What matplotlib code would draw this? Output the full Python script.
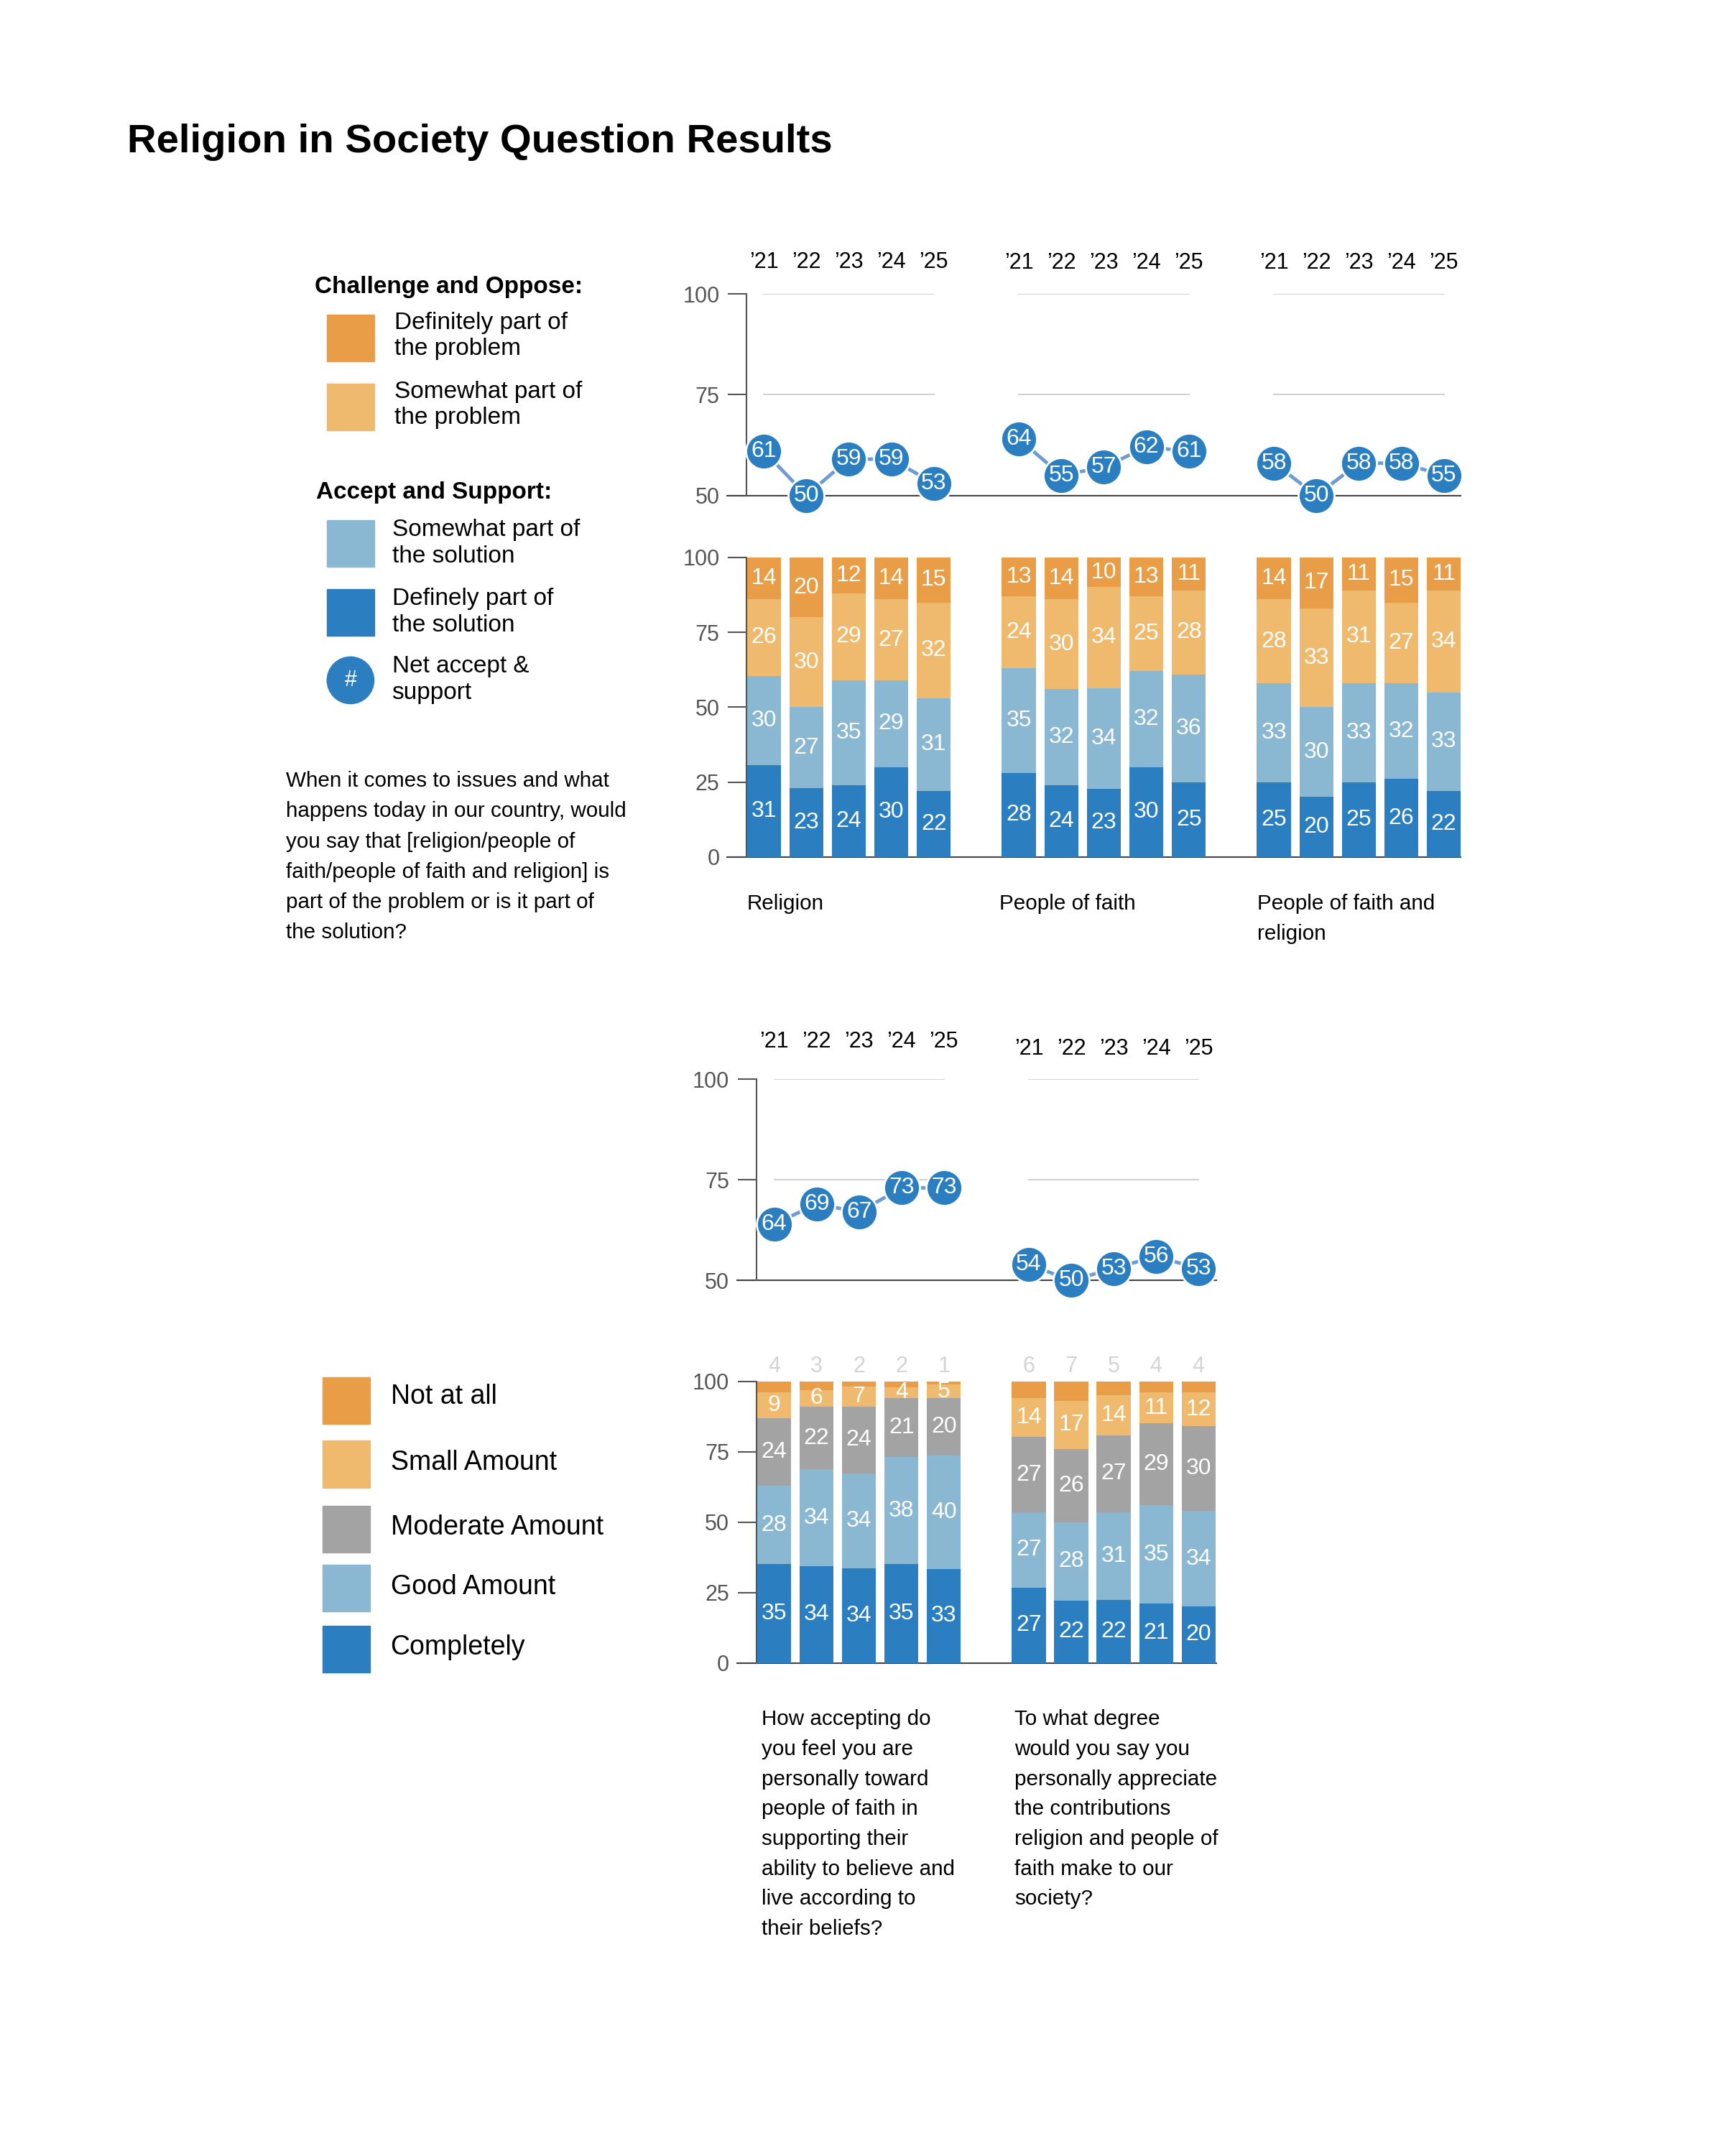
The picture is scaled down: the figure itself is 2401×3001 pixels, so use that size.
import matplotlib
matplotlib.use("Agg")
import matplotlib.pyplot as plt
from matplotlib.patches import Rectangle, Circle

plt.rcParams['font.family'] = ['Liberation Sans', 'DejaVu Sans']

# ---- data -------------------------------------------------------------
years = ["\u201921", "\u201922", "\u201923", "\u201924", "\u201925"]

top_groups = ["Religion", "People of faith", "People of faith and\nreligion"]
definitely_problem = [[14, 20, 12, 14, 15], [13, 14, 10, 13, 11], [14, 17, 11, 15, 11]]
somewhat_problem = [[26, 30, 29, 27, 32], [24, 30, 34, 25, 28], [28, 33, 31, 27, 34]]
somewhat_solution = [[30, 27, 35, 29, 31], [35, 32, 34, 32, 36], [33, 30, 33, 32, 33]]
definitely_solution = [[31, 23, 24, 30, 22], [28, 24, 23, 30, 25], [25, 20, 25, 26, 22]]
net_accept = [[61, 50, 59, 59, 53], [64, 55, 57, 62, 61], [58, 50, 58, 58, 55]]

bottom_questions = [
    "How accepting do\nyou feel you are\npersonally toward\npeople of faith in\nsupporting their\n"
    "ability to believe and\nlive according to\ntheir beliefs?",
    "To what degree\nwould you say you\npersonally appreciate\nthe contributions\n"
    "religion and people of\nfaith make to our\nsociety?",
]
not_at_all = [[4, 3, 2, 2, 1], [6, 7, 5, 4, 4]]
small_amount = [[9, 6, 7, 4, 5], [14, 17, 14, 11, 12]]
moderate_amount = [[24, 22, 24, 21, 20], [27, 26, 27, 29, 30]]
good_amount = [[28, 34, 34, 38, 40], [27, 28, 31, 35, 34]]
completely = [[35, 34, 34, 35, 33], [27, 22, 22, 21, 20]]
net_bottom = [[64, 69, 67, 73, 73], [54, 50, 53, 56, 53]]

top_question = ("When it comes to issues and what\nhappens today in our country, would\n"
                "you say that [religion/people of\nfaith/people of faith and religion] is\n"
                "part of the problem or is it part of\nthe solution?")

# ---- style ------------------------------------------------------------
DARK_ORANGE = "#E89D46"
LIGHT_ORANGE = "#F0BA6E"
GREY = "#A3A3A3"
LIGHT_BLUE = "#8AB7D2"
BLUE = "#2B7FC1"
LINE_BLUE = "#6F9BD3"
AXIS = "#555555"
GRIDC = "#CCCCCC"

W, H = 1250.0, 1562.4  # layout units (scaled to the 2401x3001 canvas)

fig = plt.figure(figsize=(24.01, 30.01), dpi=100)
canvas = fig.add_axes([0, 0, 1, 1])
canvas.set_xlim(0, W)
canvas.set_ylim(H, 0)
canvas.axis("off")


def box(x0, x1, y_top, y_bot):
    return [x0 / W, 1 - y_bot / H, (x1 - x0) / W, (y_bot - y_top) / H]


def lines_at(x, y0, step, text, size, **kw):
    for i, line in enumerate(text.split("\n")):
        canvas.text(x, y0 + i * step, line, fontsize=size, va="center", ha="left", **kw)


def style_axis(ax, ticks, xlim, ylim, base):
    ax.set_xlim(*xlim)
    ax.set_ylim(*ylim)
    ax.set_xticks([])
    ax.set_yticks(ticks)
    for s in ["top", "right", "bottom"]:
        ax.spines[s].set_visible(False)
    ax.spines["left"].set_color(AXIS)
    ax.spines["left"].set_linewidth(1.5)
    ax.tick_params(axis="y", length=19, width=1.5, color=AXIS, labelsize=22,
                   labelcolor=AXIS, pad=8)
    ax.patch.set_alpha(0)
    ax.plot([xlim[0] - 0.46, xlim[1]], [base, base], color="#444444", lw=1.5,
            clip_on=False, zorder=2)


def draw_lines(ax, nets, year_ys):
    for g, vals in enumerate(nets):
        xs = [g * 6 + i for i in range(len(vals))]
        for v in (75, 100):
            ax.plot([xs[0], xs[-1]], [v, v], color=GRIDC, lw=1.3, zorder=1)
        ax.plot(xs, vals, color=LINE_BLUE, lw=3.5, zorder=3, clip_on=False)
        ax.plot(xs, vals, "o", ms=36, mfc=BLUE, mec="white", mew=2, zorder=4,
                clip_on=False)
        for x, v in zip(xs, vals):
            ax.text(x, v, str(v), color="white", fontsize=23, ha="center",
                    va="center", zorder=5)
        for x, y in zip(xs, years):
            ax.text(x, year_ys[g], y, color="black", fontsize=22, ha="center",
                    va="center")


def draw_bars(ax, series, colors, top_labels=None):
    # each bar is scaled so that its segments fill 0-100
    n_groups = len(series[0])
    for g in range(n_groups):
        xs = [g * 6 + i for i in range(5)]
        totals = [sum(s[g][i] for s in series) for i in range(5)]
        bottoms = [0.0] * 5
        for k, (data, col) in enumerate(zip(series, colors)):
            vals = data[g]
            heights = [v * 100.0 / t for v, t in zip(vals, totals)]
            ax.bar(xs, heights, bottom=bottoms, width=0.8, color=col, zorder=2)
            for x, b, h, v in zip(xs, bottoms, heights, vals):
                if top_labels is not None and k == len(series) - 1:
                    continue
                ax.text(x, b + h / 2, str(v), color="white", fontsize=23,
                        ha="center", va="center", zorder=3)
            bottoms = [b + h for b, h in zip(bottoms, heights)]
        if top_labels is not None:
            for x, v in zip(xs, top_labels[g]):
                ax.text(x, 105.4, str(v), color="#D4D4D4", fontsize=22,
                        ha="center", va="center")


# ---- title ------------------------------------------------------------
canvas.text(92, 103, "Religion in Society Question Results", fontsize=40.5,
            fontweight="bold", va="center", ha="left")

# ---- legend 1 ---------------------------------------------------------
canvas.text(228, 208, "Challenge and Oppose:", fontsize=24, fontweight="bold", va="center")
canvas.add_patch(Rectangle((237, 228), 34, 34, color=DARK_ORANGE))
lines_at(286, 234, 19, "Definitely part of\nthe problem", 24)
canvas.add_patch(Rectangle((237, 278), 34, 34, color=LIGHT_ORANGE))
lines_at(286, 284, 19, "Somewhat part of\nthe problem", 24)
canvas.text(229, 357, "Accept and Support:", fontsize=24, fontweight="bold", va="center")
canvas.add_patch(Rectangle((237, 377), 34, 34, color=LIGHT_BLUE))
lines_at(284, 384, 19, "Somewhat part of\nthe solution", 24)
canvas.add_patch(Rectangle((237, 427), 34, 34, color=BLUE))
lines_at(284, 434, 19, "Definely part of\nthe solution", 24)
canvas.add_patch(Circle((254, 493), 17, color=BLUE))
canvas.text(254, 493, "#", color="white", fontsize=22, ha="center", va="center")
lines_at(284, 483, 19, "Net accept &\nsupport", 24)

lines_at(207, 566, 22, top_question, 21.3)

# ---- top charts -------------------------------------------------------
step = 30.8
x0 = 553.5
xl = (-0.41, 16.4)
ax1 = fig.add_axes(box(x0 + xl[0] * step, x0 + xl[1] * step, 213, 359))
style_axis(ax1, [50, 75, 100], xl, (50, 100), 50)
draw_lines(ax1, net_accept, [107.9, 107.6, 107.6])

ax2 = fig.add_axes(box(x0 + xl[0] * step, x0 + xl[1] * step, 404, 621))
style_axis(ax2, [0, 25, 50, 75, 100], xl, (0, 100), 0)
draw_bars(ax2, [definitely_solution, somewhat_solution, somewhat_problem, definitely_problem],
          [BLUE, LIGHT_BLUE, LIGHT_ORANGE, DARK_ORANGE])

for g, name in enumerate(top_groups):
    lines_at([541, 724, 911][g], 655, 22, name, 21.3)

# ---- bottom charts ----------------------------------------------------
step_b = 30.75
x0b = 561
xlb = (-0.42, 10.42)
ax3 = fig.add_axes(box(x0b + xlb[0] * step_b, x0b + xlb[1] * step_b, 782, 928))
style_axis(ax3, [50, 75, 100], xlb, (50, 100), 50)
draw_lines(ax3, net_bottom, [109.2, 107.5])

ax4 = fig.add_axes(box(x0b + xlb[0] * step_b, x0b + xlb[1] * step_b, 1001, 1205))
style_axis(ax4, [0, 25, 50, 75, 100], xlb, (0, 100), 0)
draw_bars(ax4, [completely, good_amount, moderate_amount, small_amount, not_at_all],
          [BLUE, LIGHT_BLUE, GREY, LIGHT_ORANGE, DARK_ORANGE], top_labels=not_at_all)

for g, q in enumerate(bottom_questions):
    lines_at([552, 735][g], 1246, 21.7, q, 21.3)

# ---- legend 2 ---------------------------------------------------------
leg2_labels = ["Not at all", "Small Amount", "Moderate Amount", "Good Amount", "Completely"]
leg2_colors = [DARK_ORANGE, LIGHT_ORANGE, GREY, LIGHT_BLUE, BLUE]
leg2_tops = [998, 1044, 1091, 1134, 1178]
leg2_text_y = [1012, 1060, 1107, 1150, 1194]
for lab, col, t, ty in zip(leg2_labels, leg2_colors, leg2_tops, leg2_text_y):
    canvas.add_patch(Rectangle((234, t), 34, 34, color=col))
    canvas.text(283, ty, lab, fontsize=27, va="center")

fig.savefig("out.png", dpi=100, facecolor="white")
